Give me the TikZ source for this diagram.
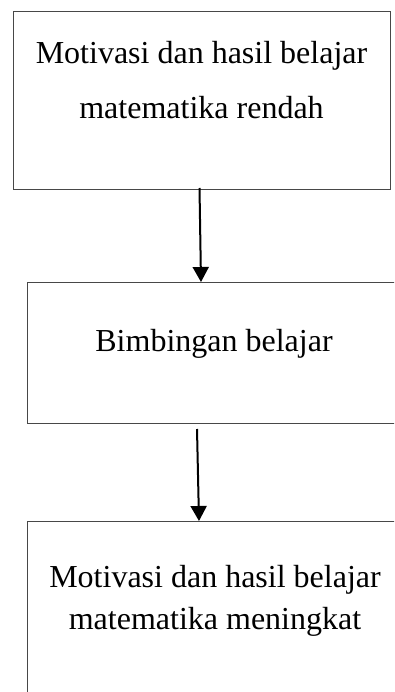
\documentclass[tikz,border=0pt]{standalone}
\usepackage{fontspec}
\setmainfont{Liberation Serif}
\usetikzlibrary{arrows.meta}
\begin{document}
\begin{tikzpicture}[x=1pt,y=-1pt,
  box/.style={draw=black!72,line width=1.2pt,rectangle,inner sep=0pt,anchor=north west},
  lbl/.style={anchor=base,inner sep=0pt,font=\fontsize{32}{38}\selectfont},
  arr/.style={line width=2pt,-{Triangle[length=15pt,width=16pt]}}]
\clip (0,0) rectangle (394,692);
\fill[white] (0,0) rectangle (394,692);
% boxes
\node[box,minimum width=377pt,minimum height=178pt] (b1) at (13,11) {};
\node[box,minimum width=390pt,minimum height=141pt] (b2) at (27,282) {};
\node[box,minimum width=390pt,minimum height=200pt] (b3) at (27,521) {};
% texts
\node[lbl] (t1a) at (201.5,64) {Motivasi dan hasil belajar};
\node[lbl] (t1b) at (201.5,119) {matematika rendah};
\node[lbl] (t2) at (214,351) {Bimbingan belajar};
\node[lbl] (t3a) at (215,587) {Motivasi dan hasil belajar};
\node[lbl] (t3b) at (215,629) {matematika meningkat};
% connector ends
\coordinate (a1s) at (199.5,188);
\coordinate (a1e) at (201,282);
\coordinate (a2s) at (197,429);
\coordinate (a2e) at (199,521);
\draw[arr] (a1s) -- (a1e);
\draw[arr] (a2s) -- (a2e);
\end{tikzpicture}
\end{document}
